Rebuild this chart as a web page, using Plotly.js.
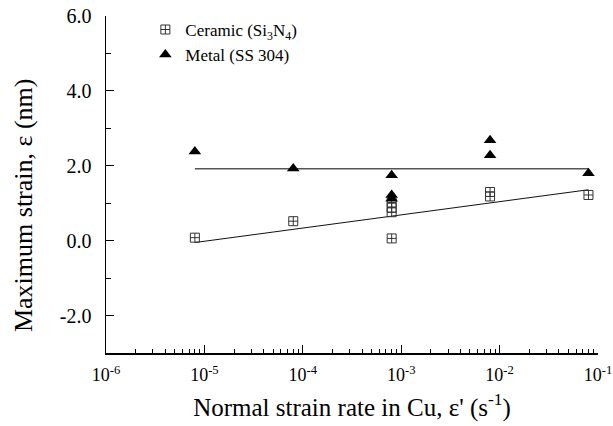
<!DOCTYPE html>
<html>
<head>
<meta charset="utf-8">
<script src="https://cdn.plot.ly/plotly-3.0.1.min.js"></script>
<style>html,body{margin:0;padding:0;background:#fff;}#chart{width:613px;height:426px;}</style>
</head>
<body>
<div id="chart"></div>
<script>
// Data
const ceramicX = [8e-6, 8e-5, 8e-4, 8e-4, 8e-4, 8e-4, 8e-3, 8e-3, 8e-2];
const ceramicY = [0.08, 0.52, 1.02, 0.88, 0.76, 0.06, 1.30, 1.18, 1.22];
const metalX = [8e-6, 8e-5, 8e-4, 8e-4, 8e-4, 8e-3, 8e-3, 8e-2];
const metalY = [2.38, 1.93, 1.75, 1.22, 1.12, 2.68, 2.28, 1.80];
const fitX = [8e-6, 8e-2];
const ceramicFitY = [-0.05, 1.36];
const metalFitY = [1.92, 1.92];
const xTickVals = [1e-6, 1e-5, 1e-4, 1e-3, 1e-2, 1e-1];
const xTickText = ['10<sup>-6</sup>', '10<sup>-5</sup>', '10<sup>-4</sup>', '10<sup>-3</sup>', '10<sup>-2</sup>', '10<sup>-1</sup>'];
const yTickVals = [-2, 0, 2, 4, 6];
const yTickText = ['-2.0', '0.0', '2.0', '4.0', '6.0'];
const xTitle = "Normal strain rate in Cu, ε' (s<sup>-1</sup>)";
const yTitle = 'Maximum strain, ε (nm)';

const minorX = [];
for (let e = -6; e < -1; e++) for (let m = 2; m <= 9; m++) minorX.push(m * Math.pow(10, e));

const font = 'Liberation Serif, Times New Roman, serif';
const traces = [
  {x: fitX, y: metalFitY, mode: 'lines', line: {color: '#555', width: 1.3}, showlegend: false, hoverinfo: 'skip'},
  {x: fitX, y: ceramicFitY, mode: 'lines', line: {color: '#111', width: 1}, showlegend: false, hoverinfo: 'skip'},
  {x: ceramicX, y: ceramicY, mode: 'markers', name: 'Ceramic (Si<sub>3</sub>N<sub>4</sub>)',
   marker: {symbol: 'square-cross-open', size: 9, color: '#333', line: {width: 1, color: '#333'}}},
  {x: metalX, y: metalY, mode: 'markers', name: 'Metal (SS 304)',
   marker: {symbol: 'triangle-up', size: 11, color: '#000'}}
];
const layout = {
  width: 613, height: 426,
  margin: {l: 106, r: 15, t: 16, b: 73},
  paper_bgcolor: '#fff', plot_bgcolor: '#fff',
  font: {family: font, color: '#000', size: 16},
  showlegend: true,
  legend: {x: 0.08, y: 1.012, xanchor: 'left', yanchor: 'top', bgcolor: 'rgba(0,0,0,0)',
           font: {family: font, size: 17, color: '#000'}, tracegroupgap: 0, itemwidth: 30},
  xaxis: {
    type: 'log', range: [-6, -1], showgrid: false, zeroline: false,
    showline: true, linecolor: '#000', linewidth: 1.5, mirror: false,
    tickmode: 'array', tickvals: xTickVals, ticktext: xTickText,
    ticks: 'inside', ticklen: 8, tickcolor: '#000', tickwidth: 1,
    tickfont: {family: font, size: 18, color: '#000'}, ticklabelstandoff: 5,
    ticklabeloverflow: 'allow',
    minor: {tickmode: 'array', tickvals: minorX, ticks: 'inside', ticklen: 4, tickcolor: '#000', tickwidth: 1, showgrid: false},
    title: {text: xTitle, font: {family: font, size: 25, color: '#000'}, standoff: 14},
    automargin: false
  },
  yaxis: {
    range: [-3, 6], showgrid: false, zeroline: false,
    showline: true, linecolor: '#000', linewidth: 1.5, mirror: false,
    tickmode: 'array', tickvals: yTickVals, ticktext: yTickText,
    ticks: 'inside', ticklen: 8, tickcolor: '#000', tickwidth: 1,
    tickfont: {family: font, size: 20, color: '#000'}, ticklabelstandoff: 9,
    ticklabeloverflow: 'allow',
    minor: {tickmode: 'linear', tick0: -3, dtick: 1, ticks: 'inside', ticklen: 5, tickcolor: '#000', tickwidth: 1, showgrid: false},
    automargin: false
  },
  annotations: [
    {text: yTitle, xref: 'paper', yref: 'paper', x: -0.168, y: 0.44, xanchor: 'center', yanchor: 'middle',
     textangle: -90, showarrow: false, font: {family: font, size: 26, color: '#000'}}
  ]
};
Plotly.newPlot('chart', traces, layout, {staticPlot: true, displayModeBar: false});
</script>
</body>
</html>
